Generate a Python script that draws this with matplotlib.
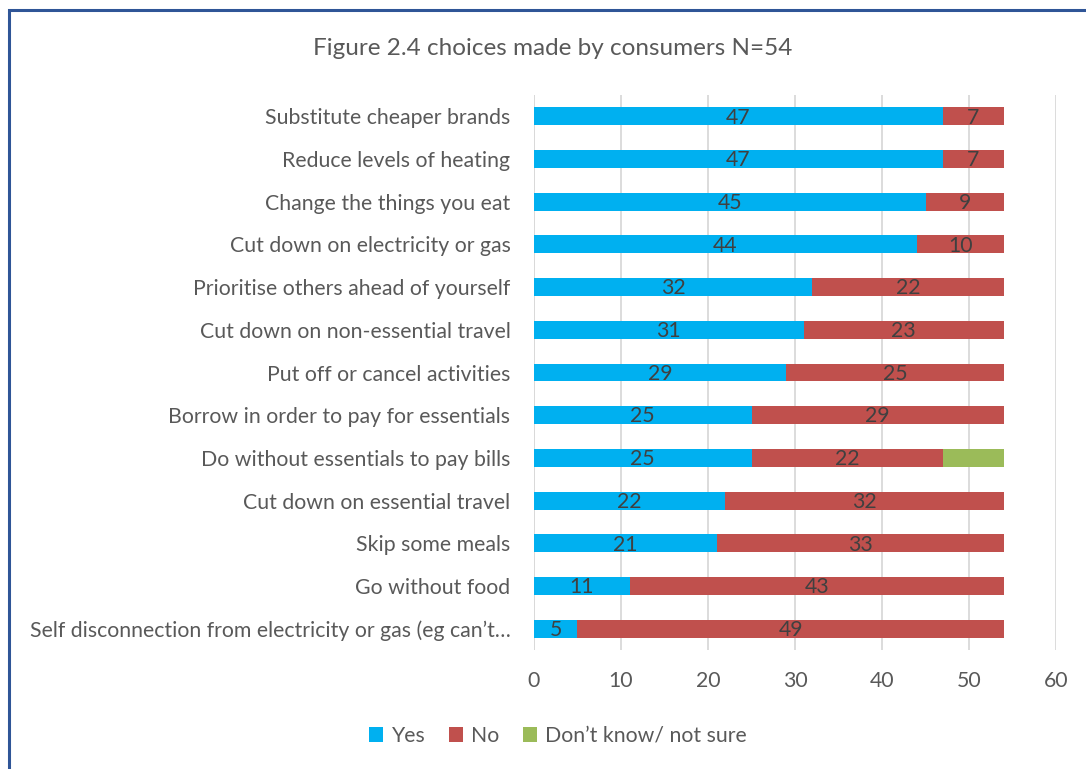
import matplotlib.pyplot as plt
import numpy as np
from matplotlib.patches import Rectangle

title = "Figure 2.4 choices made by consumers N=54"
categories = [
    "Substitute cheaper brands",
    "Reduce levels of heating",
    "Change the things you eat",
    "Cut down on electricity or gas",
    "Prioritise others ahead of yourself",
    "Cut down on non-essential travel",
    "Put off or cancel activities",
    "Borrow in order to pay for essentials",
    "Do without essentials to pay bills",
    "Cut down on essential travel",
    "Skip some meals",
    "Go without food",
    "Self disconnection from electricity or gas (eg can\u2019t\u2026",
]
yes = [47, 47, 45, 44, 32, 31, 29, 25, 25, 22, 21, 11, 5]
no = [7, 7, 9, 10, 22, 23, 25, 29, 22, 32, 33, 43, 49]
dont_know = [0, 0, 0, 0, 0, 0, 0, 0, 7, 0, 0, 0, 0]
x_ticks = [0, 10, 20, 30, 40, 50, 60]

plt.rcParams['font.family'] = ['Lato', 'DejaVu Sans']
text_col = "#595959"
fs = 15.3

fig = plt.figure(figsize=(10.86, 7.69), dpi=100)
fig.patches.append(Rectangle((0.008, -0.1), 1.1, 1.087, transform=fig.transFigure,
                             fill=False, edgecolor="#2F5597", linewidth=2.2))
ax = fig.add_axes([0.4917, 0.1547, 0.4807, 0.7218])

y = np.arange(len(categories))[::-1]
yes_a = np.array(yes)
no_a = np.array(no)
dk_a = np.array(dont_know)
h = 0.42
b1 = ax.barh(y, yes_a, height=h, color="#00B0F0", label="Yes", zorder=3)
b2 = ax.barh(y, no_a, left=yes_a, height=h, color="#C0504D", label="No", zorder=3)
b3 = ax.barh(y, dk_a, left=yes_a + no_a, height=h, color="#9BBB59",
             label="Don\u2019t know/ not sure", zorder=3)

# value labels in the middle of each yes/no segment
for bars, vals in ((b1, yes), (b2, no)):
    for bar, v in zip(bars, vals):
        if v > 0:
            ax.text(bar.get_x() + bar.get_width() / 2, bar.get_y() + bar.get_height() / 2 - 0.03,
                    str(v), ha="center", va="center", fontsize=fs, color="#404040", zorder=4)

ax.set_xlim(0, 60)
ax.set_ylim(-0.5, len(categories) - 0.5)
ax.set_xticks(x_ticks)
ax.set_yticks(y)
ax.set_yticklabels(categories)
ax.tick_params(axis="both", length=0, labelsize=fs, colors=text_col)
ax.tick_params(axis="y", pad=17)
ax.tick_params(axis="x", pad=15)
ax.xaxis.grid(True, color="#D9D9D9", linewidth=1.3, zorder=0)
for s in ax.spines.values():
    s.set_visible(False)
ax.axvline(0, color="#D9D9D9", linewidth=1.3, zorder=1)

fig.text(0.509, 0.937, title, ha="center", va="center", fontsize=17.5, color=text_col)
fig.legend(handles=[b1, b2, b3], loc="center", bbox_to_anchor=(0.514, 0.043), ncol=3,
           frameon=False, fontsize=fs, labelcolor=text_col, handlelength=0.65,
           handleheight=0.65, handletextpad=0.4, columnspacing=1.1)

fig.savefig("out.png", dpi=100)
